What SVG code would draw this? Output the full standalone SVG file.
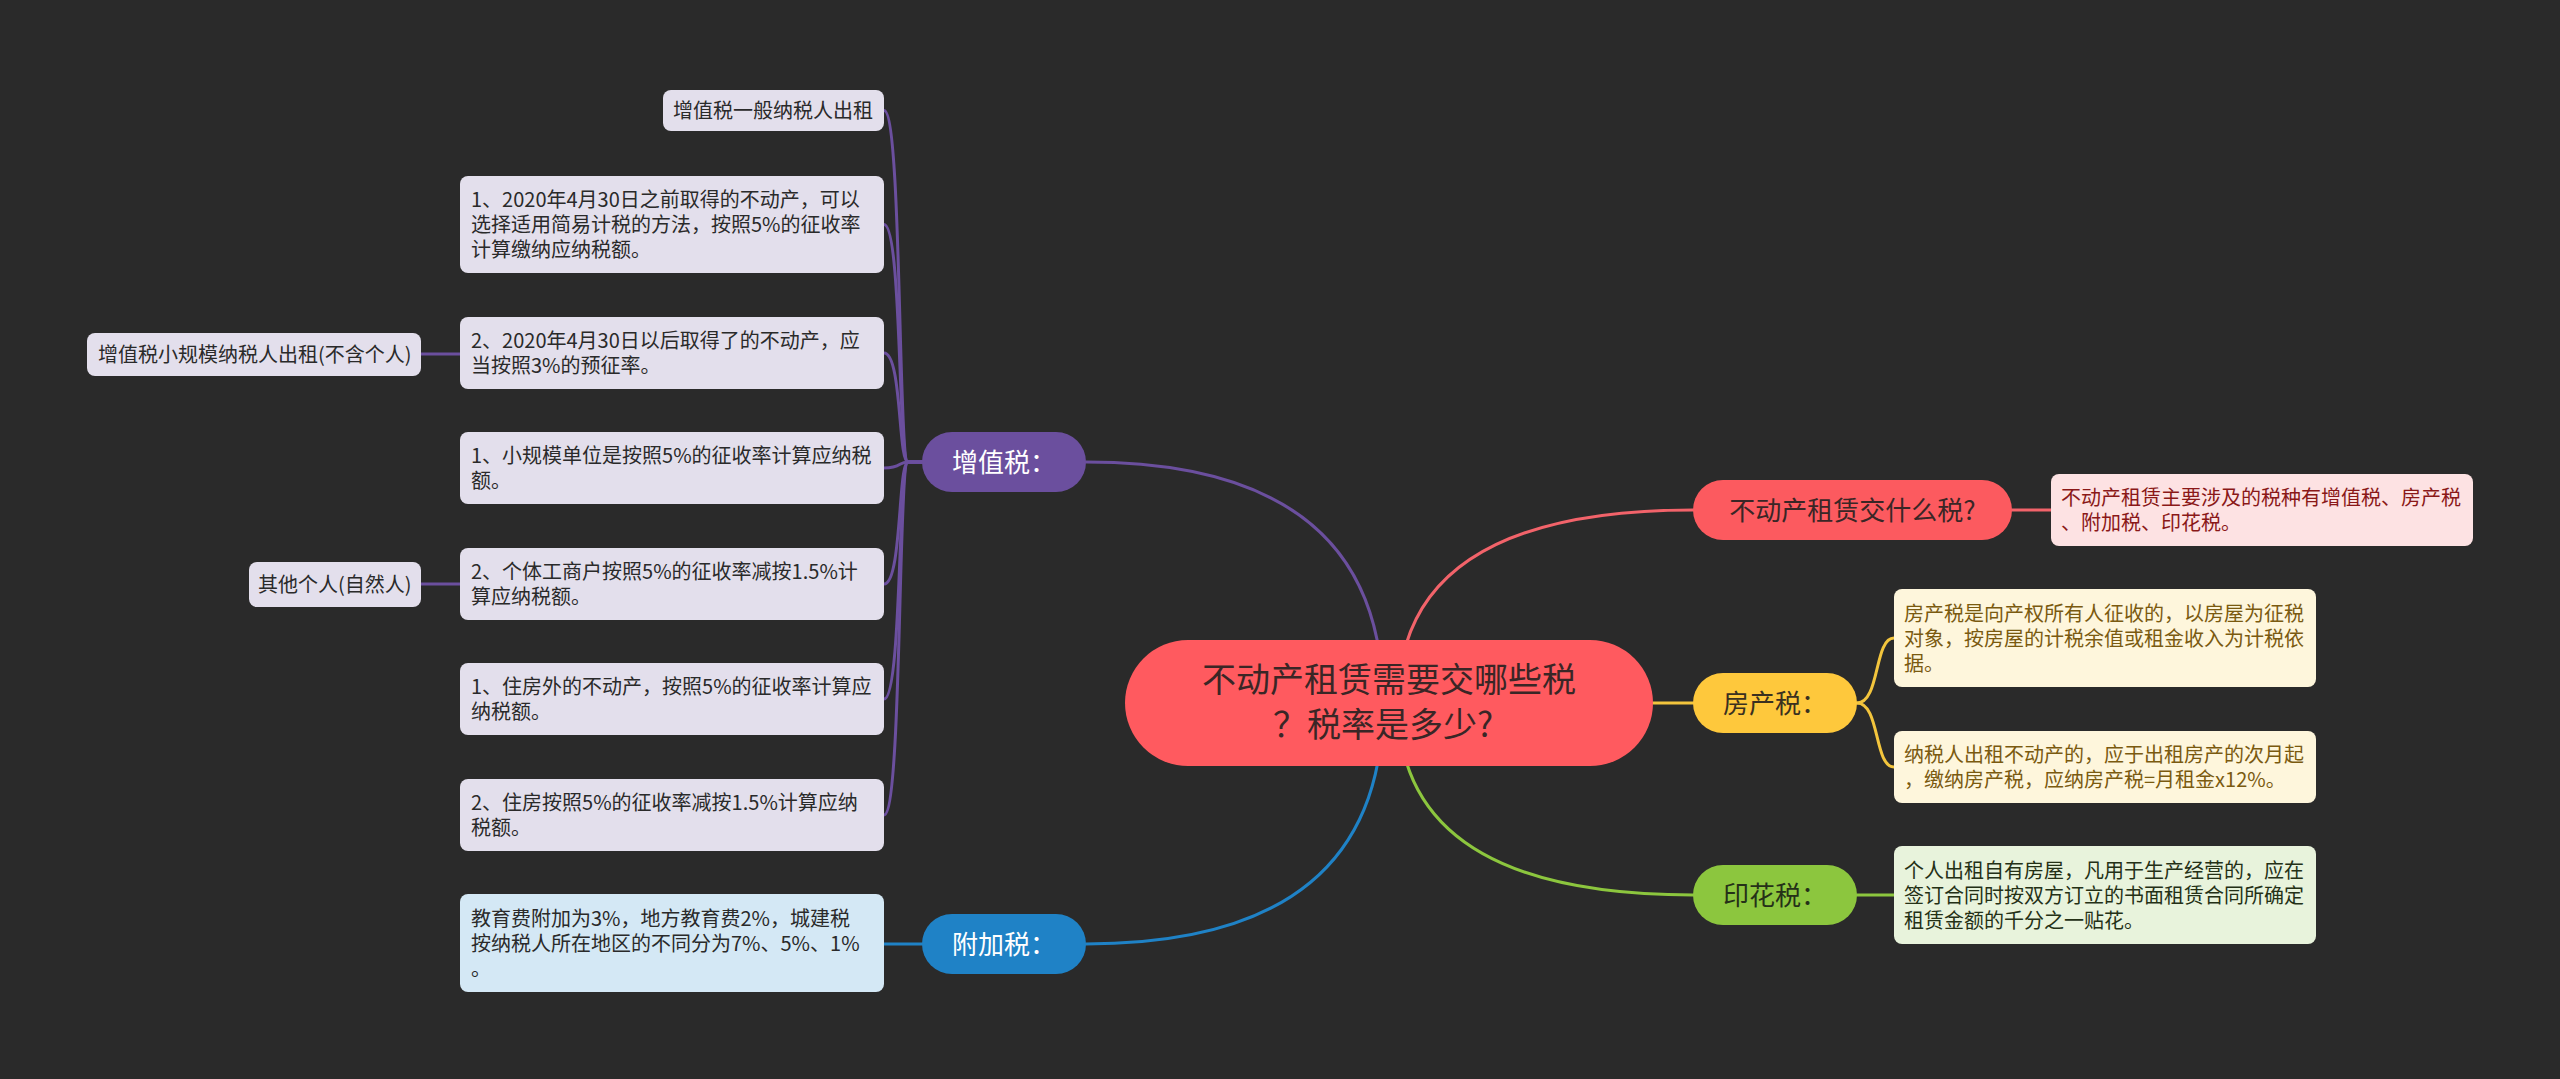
<svg xmlns="http://www.w3.org/2000/svg" width="2560" height="1079" viewBox="0 0 2560 1079">
<style>
text{font-family:"Noto Sans CJK SC","Liberation Sans",sans-serif;}
.lf{font-size:20px;}
.pill{font-size:26px;text-anchor:middle;}
.c{fill:none;stroke-width:3;stroke-linecap:round;}
.pu{stroke:#6b4f9e;}
.bl{stroke:#1f82c6;}
.rd{stroke:#f2636a;}
.ye{stroke:#f3c53d;}
.gr{stroke:#8cc63e;}
.lp{fill:#e3dfec;}
.lb{fill:#d4e8f5;}
.lr{fill:#fde2e3;}
.ly{fill:#fef6dc;}
.lg{fill:#e8f3dc;}
</style>
<rect x="0" y="0" width="2560" height="1079" fill="#2a2a2a"/>
<g id="connectors">
<path class="c pu" d="M1383 703 Q1383 462 1086 462"/>
<path class="c bl" d="M1383 703 Q1383 944 1086 944"/>
<path class="c rd" d="M1398 703 Q1398 510 1693 510"/>
<path class="c ye" d="M1653 703 L1693 703"/>
<path class="c gr" d="M1398 703 Q1398 895 1693 895"/>
<path class="c pu" d="M922 462 L908 462 C898 462 902 110.5 884 110.5"/>
<path class="c pu" d="M922 462 L908 462 C898 462 902 224.5 884 224.5"/>
<path class="c pu" d="M922 462 L908 462 C898 462 902 353 884 353"/>
<path class="c pu" d="M922 462 L908 462 C898 462 902 468 884 468"/>
<path class="c pu" d="M922 462 L908 462 C898 462 902 584 884 584"/>
<path class="c pu" d="M922 462 L908 462 C898 462 902 699 884 699"/>
<path class="c pu" d="M922 462 L908 462 C898 462 902 815 884 815"/>
<path class="c pu" d="M460 354 L421 354"/>
<path class="c pu" d="M460 584 L421 584"/>
<path class="c bl" d="M922 944 L883 944"/>
<path class="c rd" d="M2012 510 L2051 510"/>
<path class="c ye" d="M1857 703 C1880 703 1874 638 1894 638"/>
<path class="c ye" d="M1857 703 C1880 703 1874 767 1894 767"/>
<path class="c gr" d="M1857 895 L1894 895"/>
</g>
<g id="center">
<rect x="1125" y="640" width="528" height="126" rx="63" fill="#ff5a5f"/>
<text x="1389" y="692" font-size="34" text-anchor="middle" fill="#3a2626">不动产租赁需要交哪些税</text>
<text x="1383" y="737" font-size="34" text-anchor="middle" fill="#3a2626">？税率是多少?</text>
</g>
<g id="n-zzs">
<rect x="922" y="432" width="164" height="60" rx="30" fill="#6b4f9e"/>
<text class="pill" x="1004" y="471.5" fill="#ffffff">增值税：</text>
</g>
<g id="n-fjs">
<rect x="922" y="914" width="164" height="60" rx="30" fill="#1f82c6"/>
<text class="pill" x="1004" y="953.5" fill="#ffffff">附加税：</text>
</g>
<g id="n-q">
<rect x="1693" y="480" width="319" height="60" rx="30" fill="#fc5a5f"/>
<text class="pill" x="1852.5" y="519.5" fill="#3a2626">不动产租赁交什么税?</text>
</g>
<g id="n-fcs">
<rect x="1693" y="673" width="164" height="60" rx="30" fill="#fec83c"/>
<text class="pill" x="1775" y="712.5" fill="#3a3020">房产税：</text>
</g>
<g id="n-yhs">
<rect x="1693" y="865" width="164" height="60" rx="30" fill="#8cc63e"/>
<text class="pill" x="1775" y="904.5" fill="#253018">印花税：</text>
</g>
<g id="l1">
<rect class="lp" x="663" y="90" width="221" height="41" rx="8"/>
<text class="lf" x="673" y="118" fill="#2a2a2a">增值税一般纳税人出租</text>
</g>
<g id="l2">
<rect class="lp" x="460" y="176" width="424" height="97" rx="8"/>
<text class="lf" x="471" y="207" fill="#2a2a2a">1、2020年4月30日之前取得的不动产，可以</text>
<text class="lf" x="471" y="232" fill="#2a2a2a">选择适用简易计税的方法，按照5%的征收率</text>
<text class="lf" x="471" y="257" fill="#2a2a2a">计算缴纳应纳税额。</text>
</g>
<g id="l3">
<rect class="lp" x="460" y="317" width="424" height="72" rx="8"/>
<text class="lf" x="471" y="348" fill="#2a2a2a">2、2020年4月30日以后取得了的不动产，应</text>
<text class="lf" x="471" y="373" fill="#2a2a2a">当按照3%的预征率。</text>
</g>
<g id="l3a">
<rect class="lp" x="87" y="333" width="334" height="43" rx="8"/>
<text class="lf" x="98" y="362" fill="#2a2a2a">增值税小规模纳税人出租(不含个人)</text>
</g>
<g id="l4">
<rect class="lp" x="460" y="432" width="424" height="72" rx="8"/>
<text class="lf" x="471" y="463" fill="#2a2a2a">1、小规模单位是按照5%的征收率计算应纳税</text>
<text class="lf" x="471" y="488" fill="#2a2a2a">额。</text>
</g>
<g id="l5">
<rect class="lp" x="460" y="548" width="424" height="72" rx="8"/>
<text class="lf" x="471" y="579" fill="#2a2a2a">2、个体工商户按照5%的征收率减按1.5%计</text>
<text class="lf" x="471" y="604" fill="#2a2a2a">算应纳税额。</text>
</g>
<g id="l5a">
<rect class="lp" x="249" y="562" width="172" height="45" rx="8"/>
<text class="lf" x="258" y="592" fill="#2a2a2a">其他个人(自然人)</text>
</g>
<g id="l6">
<rect class="lp" x="460" y="663" width="424" height="72" rx="8"/>
<text class="lf" x="471" y="694" fill="#2a2a2a">1、住房外的不动产，按照5%的征收率计算应</text>
<text class="lf" x="471" y="719" fill="#2a2a2a">纳税额。</text>
</g>
<g id="l7">
<rect class="lp" x="460" y="779" width="424" height="72" rx="8"/>
<text class="lf" x="471" y="810" fill="#2a2a2a">2、住房按照5%的征收率减按1.5%计算应纳</text>
<text class="lf" x="471" y="835" fill="#2a2a2a">税额。</text>
</g>
<g id="l8">
<rect class="lb" x="460" y="894" width="424" height="98" rx="8"/>
<text class="lf" x="471" y="926" fill="#2a2a2a">教育费附加为3%，地方教育费2%，城建税</text>
<text class="lf" x="471" y="951" fill="#2a2a2a">按纳税人所在地区的不同分为7%、5%、1%</text>
<text class="lf" x="471" y="976" fill="#2a2a2a">。</text>
</g>
<g id="r1">
<rect class="lr" x="2051" y="474" width="422" height="72" rx="8"/>
<text class="lf" x="2061" y="505" fill="#8a1818">不动产租赁主要涉及的税种有增值税、房产税</text>
<text class="lf" x="2061" y="530" fill="#8a1818">、附加税、印花税。</text>
</g>
<g id="r2">
<rect class="ly" x="1894" y="589" width="422" height="98" rx="8"/>
<text class="lf" x="1904" y="621" fill="#7a5a10">房产税是向产权所有人征收的，以房屋为征税</text>
<text class="lf" x="1904" y="646" fill="#7a5a10">对象，按房屋的计税余值或租金收入为计税依</text>
<text class="lf" x="1904" y="671" fill="#7a5a10">据。</text>
</g>
<g id="r3">
<rect class="ly" x="1894" y="731" width="422" height="72" rx="8"/>
<text class="lf" x="1904" y="762" fill="#7a5a10">纳税人出租不动产的，应于出租房产的次月起</text>
<text class="lf" x="1904" y="787" fill="#7a5a10">，缴纳房产税，应纳房产税=月租金x12%。</text>
</g>
<g id="r4">
<rect class="lg" x="1894" y="846" width="422" height="98" rx="8"/>
<text class="lf" x="1904" y="878" fill="#243016">个人出租自有房屋，凡用于生产经营的，应在</text>
<text class="lf" x="1904" y="903" fill="#243016">签订合同时按双方订立的书面租赁合同所确定</text>
<text class="lf" x="1904" y="928" fill="#243016">租赁金额的千分之一贴花。</text>
</g>
</svg>
